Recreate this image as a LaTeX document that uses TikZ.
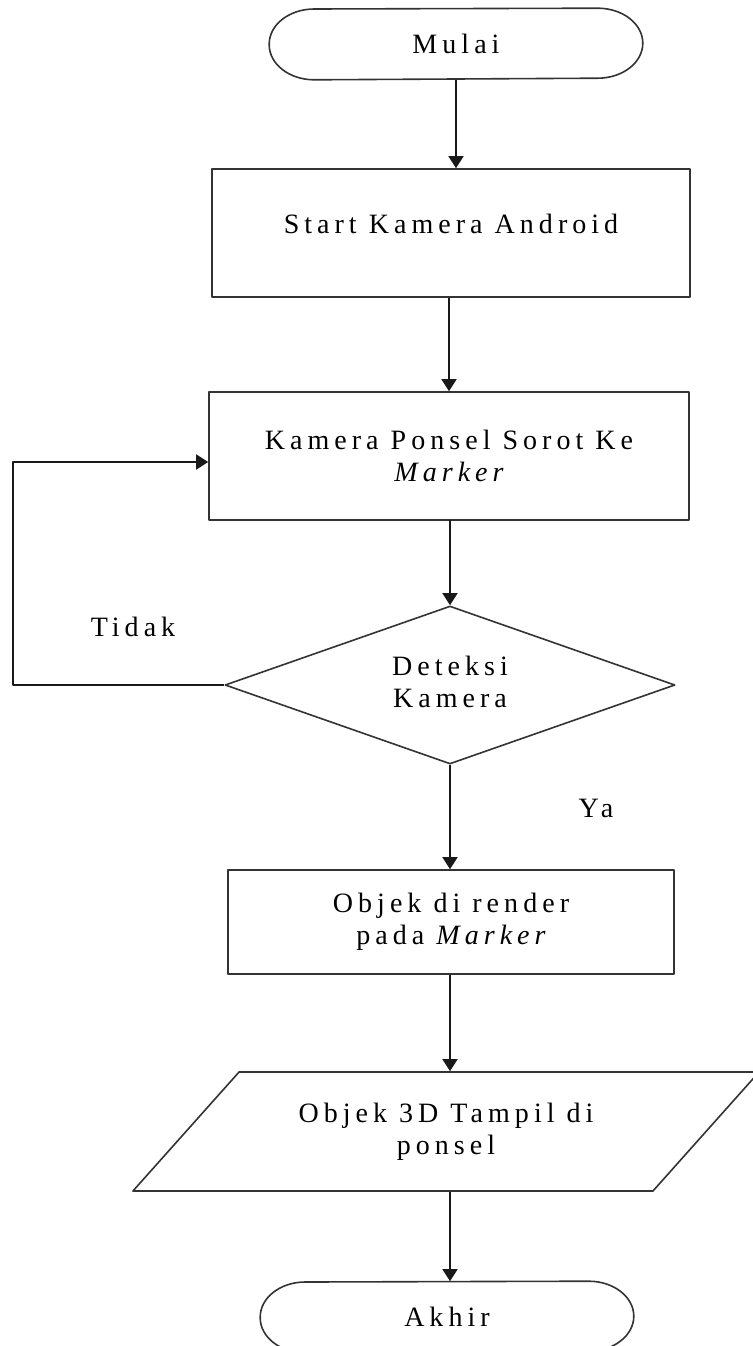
\documentclass[tikz,border=0pt]{standalone}
\usepackage{fontspec}
\setmainfont{Liberation Serif}[LetterSpace=18]
\usetikzlibrary{arrows.meta,shapes.geometric,calc}
\begin{document}
\begin{tikzpicture}[x=1pt,y=-1pt,
  line width=1.6pt, line join=round,
  every node/.style={font=\fontsize{28}{32}\selectfont, align=center, text=black},
  term/.style={rectangle, inner sep=0pt, minimum width=372pt, minimum height=70pt},
  procbox/.style={draw=black!80, rectangle, inner sep=0pt},
  decision/.style={draw=black!80, diamond, aspect=2.85, inner sep=0pt, minimum width=450pt, minimum height=158pt},
  iobox/.style={draw=black!80, trapezium, trapezium stretches=true,
    trapezium left angle=37.2, trapezium right angle=142.8,
    inner sep=0pt, minimum width=630pt, minimum height=119pt},
  flow/.style={draw=black!90, -{Triangle[width=15pt,length=12pt]}},
  outline/.style={draw=black!80}
]
\useasboundingbox (0,0) rectangle (752,1346);

% nodes
\node[term] (mulai) at (456,44) {Mulai};
\node[procbox, minimum width=478pt, minimum height=128pt, text height=19pt, text depth=19pt] (start) at (451,233) {Start Kamera Android};
\node[procbox, minimum width=480pt, minimum height=128pt] (cam) at (449,456) {Kamera Ponsel Sorot Ke\\\itshape Marker};
\node[decision] (dec) at (450,685) {\raisebox{6pt}{\begin{tabular}{@{}c@{}}Deteksi\\Kamera\end{tabular}}};
\node[procbox, minimum width=446pt, minimum height=104pt] (render) at (451,922) {Objek di render\\pada \itshape Marker};
\node[iobox] (out) at (446,1131.5) {Objek 3D Tampil di\\ponsel};
\node[term] (akhir) at (447,1317) {Akhir};

% terminal outlines with elliptic ends
\foreach \n in {mulai,akhir}{
  \draw[outline] (\n.west)
    arc[start angle=180, end angle=90, x radius=45pt, y radius=35pt]
    -- ($(\n.north east)+(-45,0)$)
    arc[start angle=90, end angle=-90, x radius=45pt, y radius=35pt]
    -- ($(\n.south west)+(45,0)$)
    arc[start angle=270, end angle=180, x radius=45pt, y radius=35pt] -- cycle;
}

% connectors
\draw[flow] (mulai.south) -- (mulai.south |- start.north);
\draw[flow] (start.south -| cam.north) -- (cam.north);
\draw[flow] (cam.south) -- (cam.south -| dec.north) -- (dec.north);
\draw[flow] (dec.south) -- (dec.south |- render.north);
\draw[flow] (dec.south |- render.south) -- (dec.south |- out.north);
\draw[flow] (dec.south |- out.south) -- (dec.south |- akhir.north);
\draw[flow] (dec.west) -- ++(-211,0) |- ($(cam.west)+(0,6)$);

% branch labels
\node (tidak) at (133,627) {Tidak};
\node (ya) at (596,808) {Ya};
\end{tikzpicture}
\end{document}
